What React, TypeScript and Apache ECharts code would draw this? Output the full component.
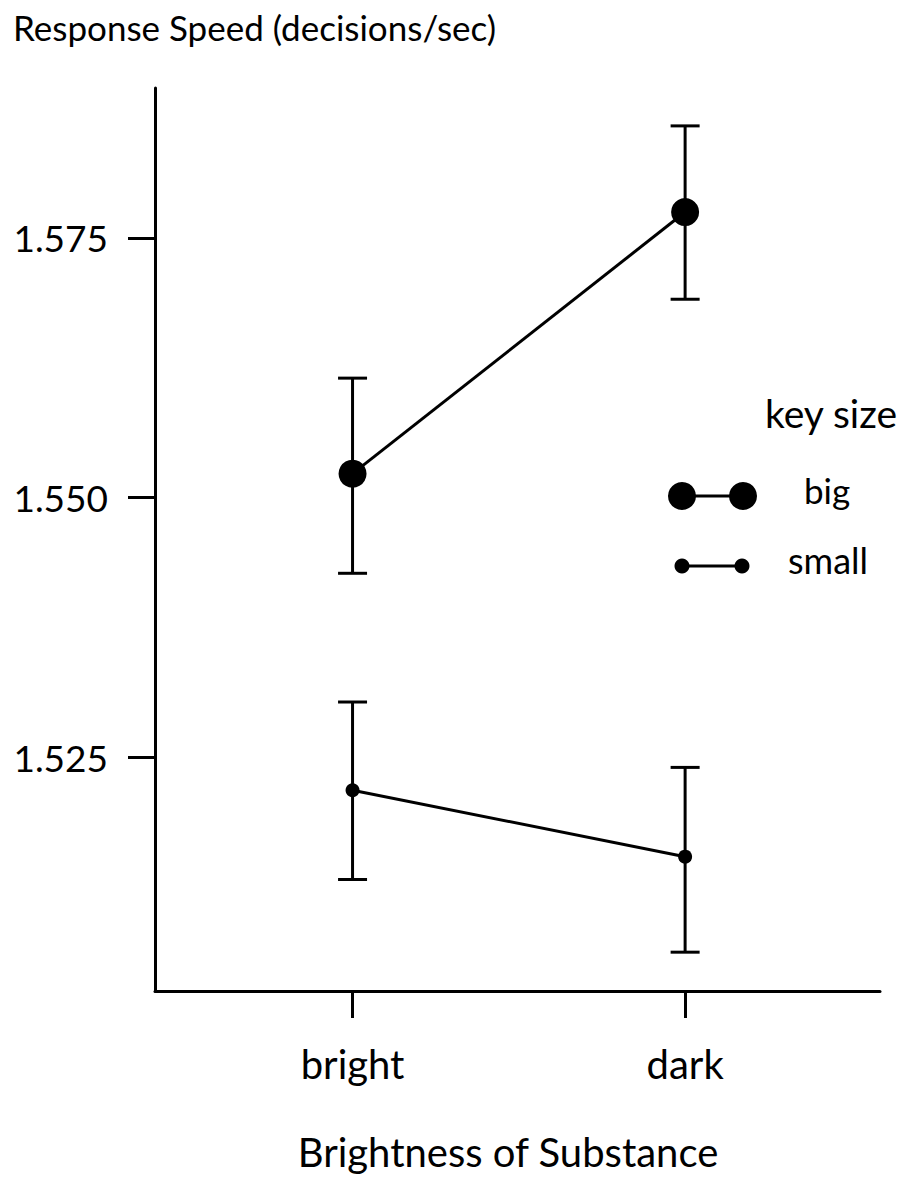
import React, { useEffect, useRef } from 'react';
import * as echarts from 'echarts';

const categories = ['bright', 'dark'];
const seriesNames = ['big', 'small'];
const bigMean = [1.5523, 1.5775];
const bigLower = [1.5427, 1.5691];
const bigUpper = [1.5615, 1.5858];
const smallMean = [1.5218, 1.5154];
const smallLower = [1.5132, 1.5062];
const smallUpper = [1.5303, 1.524];
const yTicks = [1.525, 1.55, 1.575];
const xTicks = [0, 1];

const FONT = 'Lato';

export default function App() {
  const ref = useRef<HTMLDivElement>(null);
  useEffect(() => {
    document.body.style.margin = '0';
    const chart = echarts.init(ref.current!, null, { renderer: 'svg' });

    const errorItem = (params: any, api: any) => {
      const x = api.value(0);
      const lo = api.coord([x, api.value(1)]);
      const hi = api.coord([x, api.value(2)]);
      const half = 14.5;
      const style = { stroke: '#000', lineWidth: 3 };
      return {
        type: 'group',
        children: [
          { type: 'line', shape: { x1: lo[0], y1: lo[1], x2: hi[0], y2: hi[1] }, style },
          { type: 'line', shape: { x1: lo[0] - half, y1: lo[1], x2: lo[0] + half, y2: lo[1] }, style },
          { type: 'line', shape: { x1: hi[0] - half, y1: hi[1], x2: hi[0] + half, y2: hi[1] }, style },
        ],
      };
    };

    const errData = (lower: number[], upper: number[]) =>
      categories.map((_, i) => [i, lower[i], upper[i]]);
    const lineData = (mean: number[]) => categories.map((_, i) => [i, mean[i]]);

    const option: any = {
      animation: false,
      textStyle: { fontFamily: FONT, color: '#000' },
      title: {
        text: 'Response Speed (decisions/sec)',
        left: 13,
        top: 9,
        padding: 0,
        textStyle: { fontFamily: FONT, fontSize: 35, fontWeight: 'normal', color: '#000' },
      },
      grid: { left: 155, right: 25, top: 88, bottom: 193, containLabel: false },
      xAxis: {
        type: 'value',
        min: -0.594,
        max: 1.586,
        name: 'Brightness of Substance',
        nameLocation: 'middle',
        nameGap: 141,
        nameTextStyle: { fontFamily: FONT, fontSize: 40, color: '#000', padding: [0, 19, 0, 0] },
        axisLine: { show: true, onZero: false, lineStyle: { color: '#000', width: 3 } },
        axisTick: { show: true, customValues: xTicks, length: 27, lineStyle: { color: '#000', width: 3 } },
        axisLabel: {
          customValues: xTicks,
          margin: 53,
          fontSize: 40,
          fontFamily: FONT,
          color: '#000',
          formatter: (v: number) => categories[Math.round(v)] ?? '',
        },
        splitLine: { show: false },
      },
      yAxis: {
        type: 'value',
        min: 1.50246,
        max: 1.58945,
        axisLine: { show: true, onZero: false, lineStyle: { color: '#000', width: 3 } },
        axisTick: { show: true, customValues: yTicks, length: 27, lineStyle: { color: '#000', width: 3 } },
        axisLabel: {
          customValues: yTicks,
          margin: 47,
          fontSize: 37,
          fontFamily: FONT,
          color: '#000',
          formatter: (v: number) => v.toFixed(3),
        },
        splitLine: { show: false },
      },
      series: [
        {
          name: seriesNames[0] + ' error',
          type: 'custom',
          renderItem: errorItem,
          data: errData(bigLower, bigUpper),
          encode: { x: 0, y: [1, 2] },
          z: 2,
        },
        {
          name: seriesNames[1] + ' error',
          type: 'custom',
          renderItem: errorItem,
          data: errData(smallLower, smallUpper),
          encode: { x: 0, y: [1, 2] },
          z: 2,
        },
        {
          name: seriesNames[0],
          type: 'line',
          data: lineData(bigMean),
          symbol: 'circle',
          symbolSize: 28,
          lineStyle: { color: '#000', width: 3 },
          itemStyle: { color: '#000' },
          z: 3,
        },
        {
          name: seriesNames[1],
          type: 'line',
          data: lineData(smallMean),
          symbol: 'circle',
          symbolSize: 14,
          lineStyle: { color: '#000', width: 3 },
          itemStyle: { color: '#000' },
          z: 3,
        },
      ],
      graphic: [
        {
          type: 'text',
          x: 831,
          y: 413,
          style: { text: 'key size', fontFamily: FONT, fontSize: 39, fill: '#000', align: 'center', verticalAlign: 'middle' },
        },
        { type: 'line', shape: { x1: 682, y1: 496, x2: 743, y2: 496 }, style: { stroke: '#000', lineWidth: 3 } },
        { type: 'circle', shape: { cx: 682, cy: 496, r: 14 }, style: { fill: '#000' } },
        { type: 'circle', shape: { cx: 743, cy: 496, r: 14 }, style: { fill: '#000' } },
        {
          type: 'text',
          x: 827,
          y: 490,
          style: { text: seriesNames[0], fontFamily: FONT, fontSize: 35, fill: '#000', align: 'center', verticalAlign: 'middle' },
        },
        { type: 'line', shape: { x1: 682, y1: 566, x2: 742, y2: 566 }, style: { stroke: '#000', lineWidth: 3 } },
        { type: 'circle', shape: { cx: 682, cy: 566, r: 7.5 }, style: { fill: '#000' } },
        { type: 'circle', shape: { cx: 742, cy: 566, r: 7.5 }, style: { fill: '#000' } },
        {
          type: 'text',
          x: 828,
          y: 560,
          style: { text: seriesNames[1], fontFamily: FONT, fontSize: 36, fill: '#000', align: 'center', verticalAlign: 'middle' },
        },
      ],
    };

    chart.setOption(option);
    return () => chart.dispose();
  }, []);
  return <div ref={ref} style={{ width: 905, height: 1184 }} />;
}
